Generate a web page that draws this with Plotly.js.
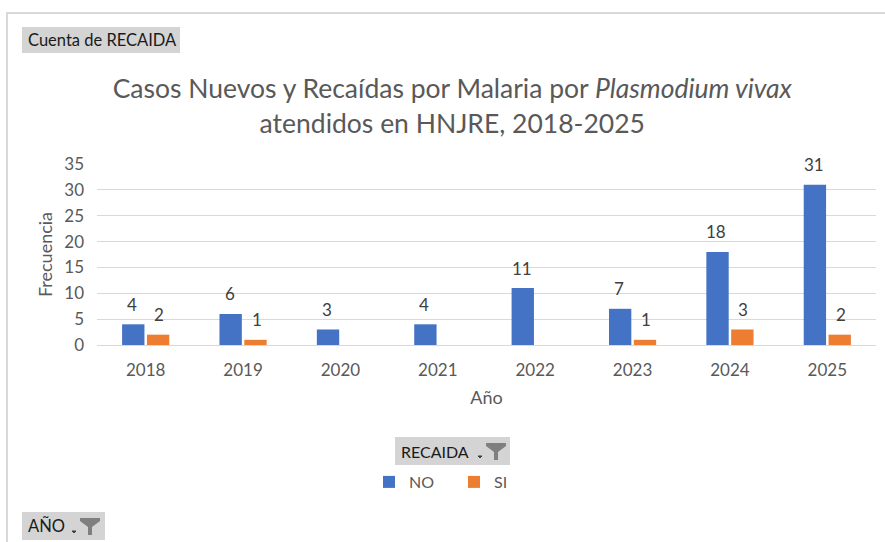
<!DOCTYPE html>
<html><head><meta charset="utf-8">
<script src="https://cdn.plot.ly/plotly-3.0.1.min.js"></script>
<style>html,body{margin:0;padding:0;background:#fff;}#chart{width:885px;height:542px;}</style>
</head><body><div id="chart"></div>
<script>
const years = ['2018','2019','2020','2021','2022','2023','2024','2025'];
const noValues = [4, 6, 3, 4, 11, 7, 18, 31];
const siValues = [2, 1, null, null, null, 1, 3, 2];
const seriesNames = ['NO', 'SI'];

const L = 97, R = 876, T = 164, B = 345;
const px = x => (x - L) / (R - L);
const py = y => (B - y) / (B - T);
const FONT = 'Lato, "Open Sans", sans-serif';

function funnel(cx, cy) {
  const p = [[cx-10,cy-8],[cx+10,cy-8],[cx+10,cy-5],[cx+2,cy+1],[cx+2,cy+9],[cx-2,cy+9],[cx-2,cy+1],[cx-10,cy-5]];
  return {type:'path', xref:'paper', yref:'paper', path: 'M' + p.map(q => px(q[0]) + ',' + py(q[1])).join(' L') + ' Z',
    fillcolor:'#7f7f7f', line:{width:0}};
}
function dash(cx, cy) {
  return {type:'path', xref:'paper', yref:'paper',
    path:`M${px(cx-2)},${py(cy)} L${px(cx+2)},${py(cy)} L${px(cx)},${py(cy+2)} Z`, fillcolor:'#404040', line:{color:'#404040',width:1}};
}
function button(x0,y0,x1,y1){
  return {type:'rect', xref:'paper', yref:'paper', x0:px(x0), x1:px(x1), y0:py(y1), y1:py(y0), fillcolor:'#d4d4d4', line:{width:0}, layer:'below'};
}

const traces = [
  {type:'bar', x: years, y: noValues, name: seriesNames[0], marker:{color:'#4472C4'}, hoverinfo:'x+y'},
  {type:'bar', x: years, y: siValues, name: seriesNames[1], marker:{color:'#ED7D31'}, hoverinfo:'x+y'}
];

// data labels, placed from the data values
const labelAnn = [];
[[noValues,-13.5],[siValues,13.5]].forEach(([vals, dx]) => {
  vals.forEach((v, i) => {
    if (v == null) return;
    labelAnn.push({xref:'x', yref:'y', x: years[i], y: v, xshift: dx, yshift: 20, yanchor:'middle', xanchor:'center',
      text: String(v), showarrow:false, font:{size:17, color:'#404040', family:FONT}});
  });
});

const layout = {
  width:885, height:542,
  margin:{l:L, r:885-R, t:T, b:542-B, pad:0},
  paper_bgcolor:'#fff', plot_bgcolor:'#fff',
  font:{family:FONT, color:'#595959', size:17},
  barmode:'group', bargap:0.49, bargroupgap:0.1,
  title:{text:'Casos Nuevos y Recaídas por Malaria por <i>Plasmodium vivax</i><br>atendidos en HNJRE, 2018-2025',
    font:{size:26.5, color:'#595959', family:FONT}, x:0.511, xanchor:'center', y:0.819, yanchor:'middle'},
  xaxis:{title:{text:'Año', font:{size:18,color:'#595959'}, standoff:11}, tickfont:{size:17,color:'#595959'},
    ticklabelstandoff:10,
    showline:true, linecolor:'#d9d9d9', linewidth:1, ticks:'', showgrid:false, fixedrange:true},
  yaxis:{title:{text:'Frecuencia', font:{size:18,color:'#595959'}, standoff:6}, range:[0,35], dtick:5,
    ticklabelstandoff:12,
    tickfont:{size:17,color:'#595959'}, gridcolor:'#d9d9d9', gridwidth:1, zeroline:false, ticks:'', ticklen:0, fixedrange:true},
  showlegend:true,
  legend:{orientation:'h', x:px(454), xanchor:'center', y:py(482), yanchor:'middle', font:{size:16,color:'#595959'},
    itemwidth:30, entrywidth:40, traceorder:'normal'},
  shapes:[
    {type:'rect', xref:'paper', yref:'paper', x0:px(7), x1:px(905), y0:py(560), y1:py(13), line:{color:'#d9d9d9', width:2}, fillcolor:'rgba(0,0,0,0)', layer:'below'},
    button(22,27,180,53),
    button(395,437,510,465),
    button(22,512,105,540),
    funnel(496,451), dash(480,456),
    funnel(90,526), dash(74,531)
  ],
  annotations: labelAnn.concat([
    {xref:'paper', yref:'paper', x:px(26), y:py(40), xanchor:'left', yanchor:'middle', text:'Cuenta de RECAIDA', showarrow:false, font:{size:16.5,color:'#1a1a1a'}},
    {xref:'paper', yref:'paper', x:px(399), y:py(451), xanchor:'left', yanchor:'middle', text:'RECAIDA', showarrow:false, font:{size:16,color:'#1a1a1a'}},
    {xref:'paper', yref:'paper', x:px(26), y:py(526), xanchor:'left', yanchor:'middle', text:'AÑO', showarrow:false, font:{size:16.5,color:'#1a1a1a'}}
  ])
};
Plotly.newPlot('chart', traces, layout, {displayModeBar:false, staticPlot:true});
</script></body></html>
